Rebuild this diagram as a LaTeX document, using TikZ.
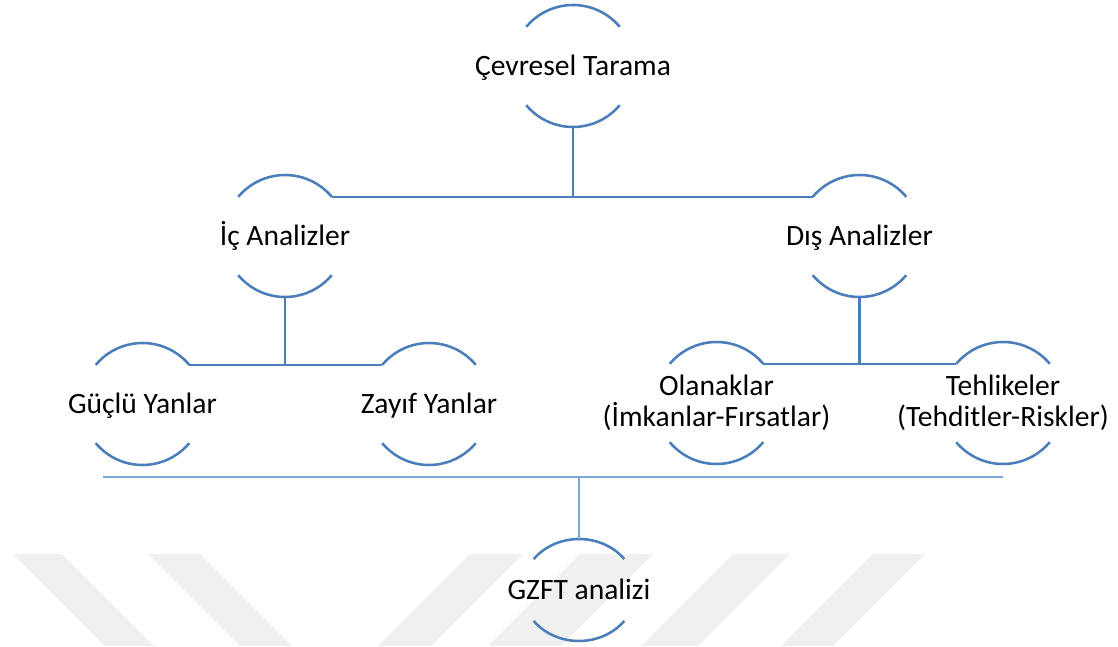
\documentclass[tikz,border=0pt]{standalone}
\usepackage{fontspec}
\setmainfont{Carlito}
\usepackage{tikz}

\definecolor{smartblue}{RGB}{74,126,187}
\definecolor{sepblue}{RGB}{125,167,215}

\begin{document}
\begin{tikzpicture}[x=0.025cm,y=0.025cm]
		\tikzstyle{Ring}=[circle,minimum size=3.05cm,inner sep=0pt,outer sep=0pt]
		\tikzstyle{LabelStyle}=[font=\fontsize{21}{22.3}\selectfont,align=center,inner sep=0pt,
			execute at begin node=\vphantom{İÇ}]
		\tikzstyle{ArcStyle}=[draw=smartblue,line width=1.8pt]
		\tikzstyle{EdgeStyle}=[draw=smartblue,line width=1.8pt]
		\tikzstyle{SepStyle}=[draw=sepblue,line width=1.1pt]
		\tikzstyle{MarkStyle}=[fill=black!6]
		\useasboundingbox (0,0) rectangle (1118,646);
		% faint bands in the background
		\fill[MarkStyle] (13,92) -- (62,92) -- (154,0) -- (105,0) -- cycle;
		\fill[MarkStyle] (148,92) -- (200,92) -- (292,0) -- (240,0) -- cycle;
		\fill[MarkStyle] (470,92) -- (523,92) -- (431,0) -- (378,0) -- cycle;
		\fill[MarkStyle] (580,92) -- (653,92) -- (561,0) -- (488,0) -- cycle;
		\fill[MarkStyle] (733,92) -- (790,92) -- (698,0) -- (641,0) -- cycle;
		\fill[MarkStyle] (873,92) -- (925,92) -- (833,0) -- (781,0) -- cycle;
		% rings
		\node[Ring,label={[LabelStyle]center:Çevresel Tarama}] (T) at (573,580) {};
		\node[Ring,label={[LabelStyle]center:İç Analizler}] (IC) at (285,410) {};
		\node[Ring,label={[LabelStyle]center:Dış Analizler}] (DIS) at (859.5,410) {};
		\node[Ring,label={[LabelStyle]center:Güçlü Yanlar}] (GY) at (142.5,242) {};
		\node[Ring,label={[LabelStyle]center:Zayıf Yanlar}] (ZY) at (429,242) {};
		\node[Ring,label={[LabelStyle]center:{Olanaklar\\(İmkanlar-Fırsatlar)}}] (OL) at (716.5,243) {};
		\node[Ring,label={[LabelStyle]center:{Tehlikeler\\(Tehditler-Riskler)}}] (TH) at (1003,243) {};
		\node[LabelStyle] (GZ) at (579,56) {GZFT analizi};
		\draw[ArcStyle] (T.40) arc (40:140:61);
		\draw[ArcStyle] (T.220) arc (220:320:61);
		\draw[ArcStyle] (IC.40) arc (40:140:61);
		\draw[ArcStyle] (IC.220) arc (220:320:61);
		\draw[ArcStyle] (DIS.40) arc (40:140:61);
		\draw[ArcStyle] (DIS.220) arc (220:320:61);
		\draw[ArcStyle] (GY.40) arc (40:140:61);
		\draw[ArcStyle] (GY.220) arc (220:320:61);
		\draw[ArcStyle] (ZY.40) arc (40:140:61);
		\draw[ArcStyle] (ZY.220) arc (220:320:61);
		\draw[ArcStyle] (OL.40) arc (40:140:61);
		\draw[ArcStyle] (OL.220) arc (220:320:61);
		\draw[ArcStyle] (TH.40) arc (40:140:61);
		\draw[ArcStyle] (TH.220) arc (220:320:61);
		\draw[ArcStyle] (GZ.center) ++(37.4:57 and 51) arc (37.4:142.6:57 and 51);
		\draw[ArcStyle] (GZ.center) ++(217.4:57 and 51) arc (217.4:322.6:57 and 51);
		% tree
		\draw[EdgeStyle] (T.south) -- (T.south |- IC.40);
		\draw[EdgeStyle] (IC.40) -- (DIS.140);
		\draw[EdgeStyle] (IC.south) -- (IC.south |- GY.40);
		\draw[EdgeStyle] (GY.40) -- (ZY.140);
		\draw[EdgeStyle] (DIS.south) -- (DIS.south |- OL.40);
		\draw[EdgeStyle] (OL.40) -- (TH.140);
		% \draw[EdgeStyle] (GY.south) -- (GZ.north);
		\coordinate (SL) at (103,169);
		\coordinate (SR) at (1003,169);
		\draw[SepStyle] (SL) -- (SR);
		\draw[SepStyle] (GZ.center) ++(0,51) -- (GZ.center |- SL);
	\end{tikzpicture}
\end{document}
